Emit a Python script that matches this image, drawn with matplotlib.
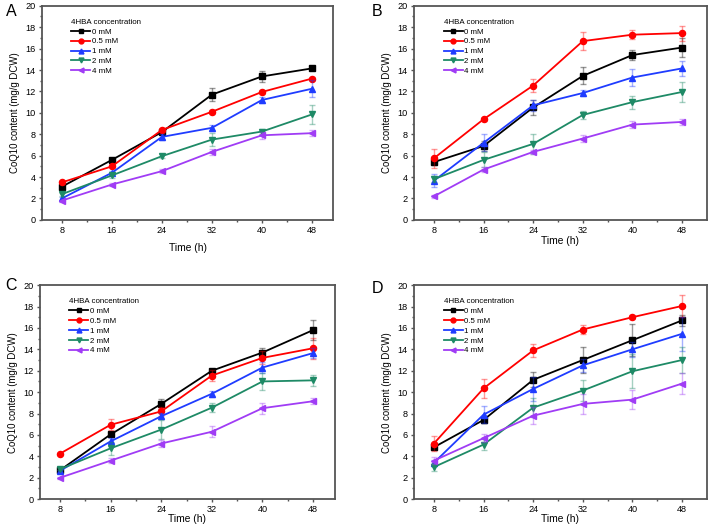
import numpy as np
import matplotlib
matplotlib.use("Agg")
import matplotlib.pyplot as plt

plt.rcParams['font.family'] = ['Liberation Sans', 'DejaVu Sans']

# time points (h)
hours = [8, 16, 24, 32, 40, 48]
labels = ['0 mM', '0.5 mM', '1 mM', '2 mM', '4 mM']
colors = ['#000000', '#FF0000', '#1F3CFF', '#1E8A66', '#A03CF5']
markers = ['s', 'o', '^', 'v', '<']

# panel A
a_mean = [
    [3.1, 5.6, 8.2, 11.7, 13.4, 14.15],
    [3.5, 5.0, 8.4, 10.1, 11.95, 13.2],
    [2.0, 4.4, 7.75, 8.6, 11.2, 12.25],
    [2.4, 4.15, 5.95, 7.5, 8.25, 9.85],
    [1.8, 3.3, 4.55, 6.35, 7.9, 8.1],
]
a_err = [
    [0.15, 0.2, 0.2, 0.6, 0.5, 0.1],
    [0.1, 0.15, 0.15, 0.2, 0.2, 0.15],
    [0.15, 0.2, 0.3, 0.3, 0.3, 0.8],
    [0.15, 0.2, 0.2, 0.6, 0.2, 0.9],
    [0.1, 0.15, 0.2, 0.3, 0.3, 0.3],
]
# panel B
b_mean = [
    [5.4, 6.9, 10.5, 13.45, 15.4, 16.1],
    [5.75, 9.4, 12.55, 16.7, 17.3, 17.45],
    [3.65, 7.2, 10.7, 11.85, 13.3, 14.15],
    [3.8, 5.6, 7.1, 9.8, 11.0, 11.95],
    [2.2, 4.7, 6.35, 7.6, 8.9, 9.15],
]
b_err = [
    [0.3, 0.5, 0.7, 0.8, 0.5, 0.9],
    [0.9, 0.15, 0.6, 0.85, 0.4, 0.7],
    [0.6, 0.8, 0.5, 0.3, 0.8, 0.7],
    [0.3, 0.7, 0.9, 0.4, 0.6, 0.9],
    [0.15, 0.2, 0.2, 0.3, 0.3, 0.3],
]
# panel C
c_mean = [
    [2.7, 6.05, 8.9, 12.0, 13.7, 15.8],
    [4.25, 6.95, 8.2, 11.55, 13.2, 14.1],
    [2.65, 5.4, 7.75, 9.85, 12.3, 13.65],
    [2.8, 4.75, 6.5, 8.55, 11.0, 11.1],
    [2.0, 3.6, 5.2, 6.3, 8.5, 9.15],
]
c_err = [
    [0.1, 0.2, 0.5, 0.2, 0.4, 0.9],
    [0.1, 0.5, 0.4, 0.5, 0.6, 1.0],
    [0.1, 0.3, 0.3, 0.3, 0.5, 0.5],
    [0.1, 0.6, 0.9, 0.4, 0.8, 0.5],
    [0.1, 0.2, 0.3, 0.5, 0.5, 0.3],
]
# panel D
d_mean = [
    [4.85, 7.4, 11.15, 13.0, 14.85, 16.7],
    [5.2, 10.35, 13.9, 15.85, 17.0, 18.05],
    [3.4, 7.9, 10.3, 12.5, 14.0, 15.45],
    [3.0, 5.1, 8.55, 10.15, 11.95, 13.0],
    [3.6, 5.7, 7.8, 8.9, 9.3, 10.8],
]
d_err = [
    [0.2, 0.3, 0.7, 1.2, 1.5, 0.5],
    [0.7, 0.9, 0.6, 0.45, 0.2, 1.0],
    [0.3, 0.8, 1.1, 0.6, 0.7, 1.6],
    [0.4, 0.5, 0.9, 1.0, 1.6, 1.2],
    [0.3, 0.4, 0.8, 0.9, 0.9, 1.0],
]

# letter, data, axes rect, xlim, letter pos, xlabel pad
panels = [
    ('A', a_mean, a_err, [0.059, 0.582, 0.411, 0.407], (4.8, 51.4), (0.008, 0.992), 6),
    ('B', b_mean, b_err, [0.584, 0.582, 0.413, 0.407], (4.8, 52.0), (0.524, 0.992), 0.5),
    ('C', c_mean, c_err, [0.056, 0.051, 0.416, 0.407], (4.8, 51.4), (0.007, 0.472), -0.5),
    ('D', d_mean, d_err, [0.584, 0.051, 0.413, 0.407], (4.8, 52.0), (0.524, 0.466), -0.5),
]

fig = plt.figure(figsize=(7.09, 5.26), dpi=100)
spine_col = '#555555'

for letter, means, errs, pos, xl, lpos, xpad in panels:
    ax = fig.add_axes(pos)
    for i in range(5):
        ax.errorbar(hours, means[i], yerr=errs[i], fmt='none', ecolor=colors[i],
                    alpha=0.4, capsize=2.5, elinewidth=1, capthick=1)
        ax.plot(hours, means[i], color=colors[i], marker=markers[i], markersize=4.4,
                linewidth=1.3, label=labels[i])
    ax.set_xlim(xl)
    ax.set_ylim(0, 20)
    ax.set_xticks(hours)
    ax.set_xticks([12, 20, 28, 36, 44], minor=True)
    ax.set_yticks(np.arange(0, 21, 2))
    ax.set_yticks(np.arange(1, 20, 2), minor=True)
    ax.tick_params(axis='both', which='major', direction='out', length=2.5, width=1,
                   labelsize=6.6, color=spine_col, pad=2)
    ax.tick_params(axis='both', which='minor', direction='out', length=1.5, width=1,
                   color=spine_col)
    for s in ax.spines.values():
        s.set_color(spine_col)
        s.set_linewidth(1.3)
    ax.set_xlabel('Time (h)', fontsize=7.4, labelpad=xpad)
    ax.set_ylabel('CoQ10 content (mg/g DCW)', fontsize=6.9, labelpad=4)
    leg = ax.legend(title='4HBA concentration', loc='upper left', bbox_to_anchor=(0.09, 0.955),
                    frameon=False, fontsize=5.7, title_fontsize=5.7, handlelength=2.4,
                    handletextpad=0.2, labelspacing=0.3, borderaxespad=0, markerscale=0.8)
    leg._legend_box.align = 'left'
    fig.text(lpos[0], lpos[1], letter, fontsize=11.5, ha='left', va='top')

fig.savefig('out.png', dpi=100)
